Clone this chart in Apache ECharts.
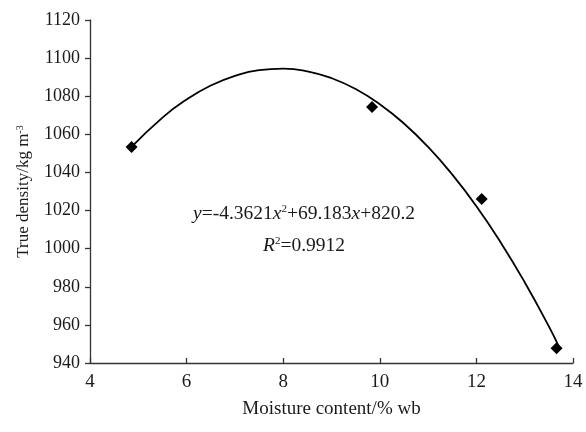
<!DOCTYPE html>
<html><head><meta charset="utf-8">
<script src="https://cdn.jsdelivr.net/npm/echarts@6/dist/echarts.min.js"></script>
<style>html,body{margin:0;padding:0;background:#fff}#c{width:586px;height:432px}</style>
</head><body><div id="c"></div>
<script>
// Measured points
var moisture = [4.86, 9.84, 12.11, 13.66];
var density = [1053.4, 1074.3, 1026.0, 947.8];
// Trendline
var trendX = [4.85, 5.5, 6, 6.5, 7, 7.5, 8, 8.5, 9, 9.5, 10, 10.5, 11, 11.5, 12, 12.5, 13, 13.5, 13.72];
var trendY = [1053.1, 1068.8, 1078.3, 1085.6, 1090.7, 1093.7, 1094.5, 1093.1, 1089.5, 1083.8, 1075.8, 1065.7, 1053.4, 1038.9, 1022.3, 1003.4, 982.4, 959.2, 948.0];
var xTicks = {min: 4, max: 14, interval: 2};
var yTicks = {min: 940, max: 1120, interval: 20};

var pts = moisture.map(function (x, i) { return [x, density[i]]; });
var trend = trendX.map(function (x, i) { return [x, trendY[i]]; });
var font = '"Liberation Serif", "Times New Roman", serif';
var ink = '#1a1a1a';
var chart = echarts.init(document.getElementById('c'));
var eqRich = {
  i: {fontFamily: font, fontSize: 19.5, fontStyle: 'italic', fill: ink},
  n: {fontFamily: font, fontSize: 19.5, fill: ink},
  p: {fontFamily: font, fontSize: 11, fill: ink, verticalAlign: 'top', padding: [0, 0, 9, 0]}
};
chart.setOption({
  animation: false,
  backgroundColor: '#fff',
  grid: {left: 90, right: 13, top: 20, bottom: 69},
  xAxis: {
    type: 'value', min: xTicks.min, max: xTicks.max, interval: xTicks.interval,
    name: 'Moisture content/% wb', nameLocation: 'middle', nameGap: 37,
    nameTextStyle: {fontFamily: font, fontSize: 19, color: ink},
    axisLine: {show: true, lineStyle: {color: '#333', width: 1.3}},
    axisTick: {show: true, inside: true, length: 5, lineStyle: {color: '#333', width: 1.3}},
    axisLabel: {fontFamily: font, fontSize: 19, color: ink, margin: 10},
    splitLine: {show: false}
  },
  yAxis: {
    type: 'value', min: yTicks.min, max: yTicks.max, interval: yTicks.interval,
    name: '{a|True density/kg m}{s|-3}', nameLocation: 'middle', nameGap: 57,
    nameTextStyle: {fontFamily: font, fontSize: 17, color: ink,
      rich: {a: {fontFamily: font, fontSize: 17, color: ink},
             s: {fontFamily: font, fontSize: 10, color: ink, verticalAlign: 'top', padding: [0, 0, 8, 0]}}},
    axisLine: {show: true, lineStyle: {color: '#333', width: 1.3}},
    axisTick: {show: true, inside: false, length: 5, lineStyle: {color: '#333', width: 1.3}},
    axisLabel: {fontFamily: font, fontSize: 18, color: ink, margin: 10,
      formatter: function (v) { return String(v); }},
    splitLine: {show: false}
  },
  series: [
    {type: 'line', data: trend, smooth: true, showSymbol: false, symbol: 'none',
     lineStyle: {color: '#000', width: 1.8}, z: 2},
    {type: 'scatter', data: pts, symbol: 'diamond', symbolSize: 12,
     itemStyle: {color: '#000', opacity: 1}, z: 3}
  ],
  graphic: [
    {type: 'text', left: 193, top: 204, style: {
      text: '{i|y}{n|=-4.3621}{i|x}{p|2}{n|+69.183}{i|x}{n|+820.2}', rich: eqRich}},
    {type: 'text', left: 263, top: 236, style: {
      text: '{i|R}{p|2}{n|=0.9912}', rich: eqRich}}
  ]
});
</script></body></html>
